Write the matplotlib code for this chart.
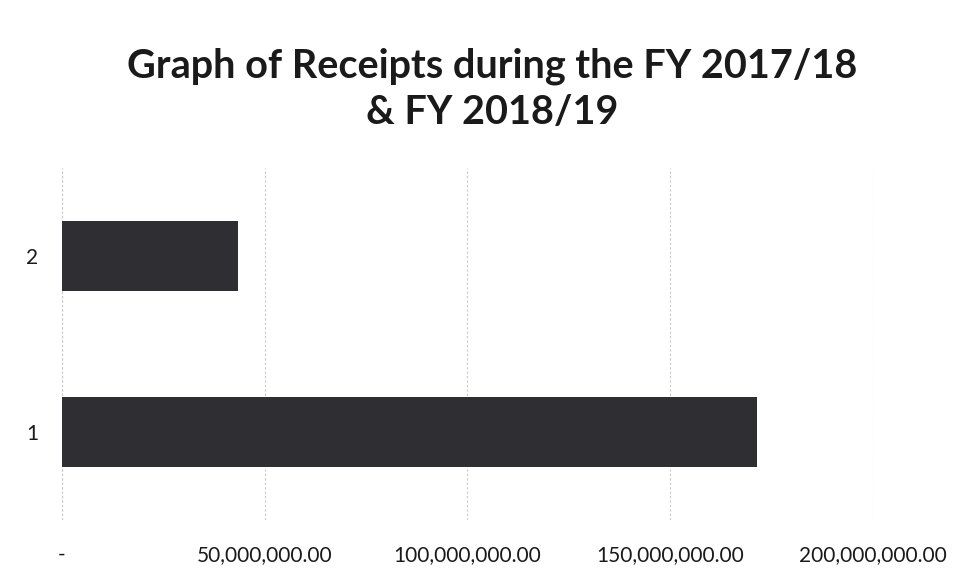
import matplotlib
matplotlib.use("Agg")
import matplotlib.pyplot as plt
from matplotlib.ticker import FuncFormatter

categories = ["1", "2"]
values = [171_400_000, 43_400_000]
x_ticks = [0, 50_000_000, 100_000_000, 150_000_000, 200_000_000]
title = "Graph of Receipts during the FY 2017/18\n& FY 2018/19"

plt.rcParams['font.family'] = ['Lato', 'DejaVu Sans']

fig = plt.figure(figsize=(9.75, 5.76), dpi=100)
ax = fig.add_axes([0.0636, 0.097, 0.8315, 0.611])

ax.barh(range(len(categories)), values, height=0.4, color="#2e2e33", zorder=3)
ax.set_yticks(range(len(categories)))
ax.set_yticklabels(categories)
ax.set_ylim(-0.5, 1.5)
ax.set_xlim(0, 200_000_000)
ax.set_xticks(x_ticks)

def fmt(v, pos):
    if v == 0:
        return "-"
    return f"{v:,.2f}"
ax.xaxis.set_major_formatter(FuncFormatter(fmt))

ax.grid(axis="x", color="#c8c8d0", linestyle=(0, (2, 2)), linewidth=0.8, zorder=0)
for s in ax.spines.values():
    s.set_visible(False)
ax.axvline(0, color="#c8c8d0", linestyle=(0, (2, 2)), linewidth=0.8, zorder=0)
ax.tick_params(axis="both", length=0, labelsize=15, colors="#1a1a1a")
ax.tick_params(axis="x", pad=18)
ax.tick_params(axis="y", pad=17)

fig.text(0.505, 0.845, title, ha="center", va="center", fontsize=28.5, fontweight="bold",
         color="#1a1a1a", linespacing=1.3)

fig.savefig("out.png", dpi=100)
